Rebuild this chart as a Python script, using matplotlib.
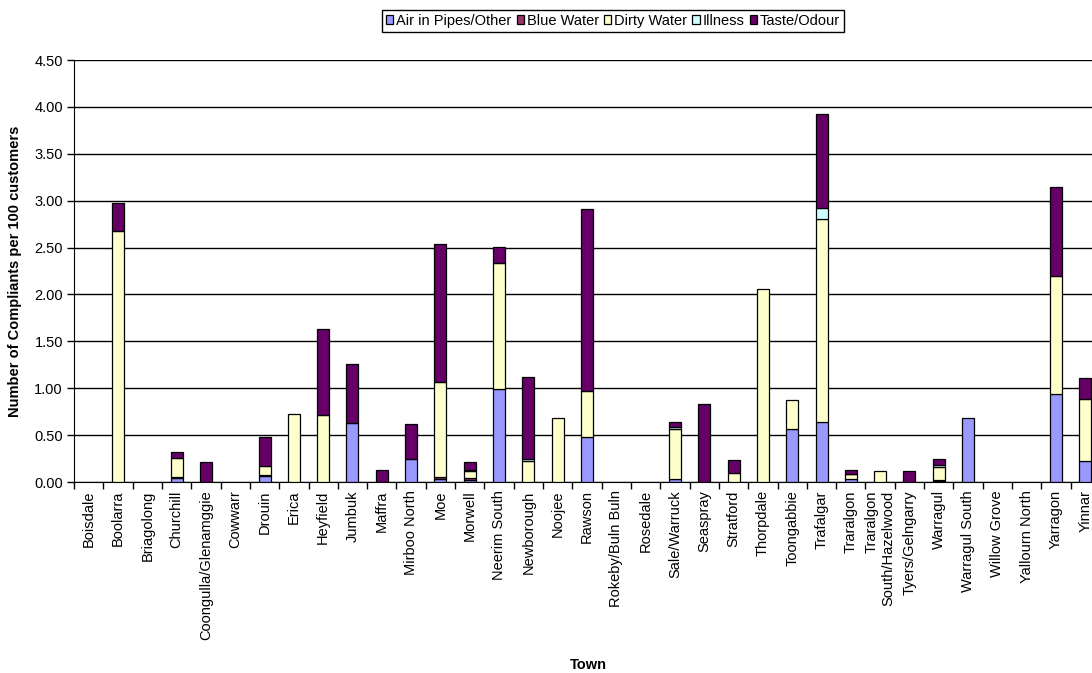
import matplotlib
matplotlib.use("Agg")
import matplotlib.pyplot as plt
import numpy as np

plt.rcParams['font.family'] = ['Liberation Sans', 'DejaVu Sans']

towns = ["Boisdale", "Boolarra", "Briagolong", "Churchill", "Coongulla/Glenamggie",
         "Cowwarr", "Drouin", "Erica", "Heyfield", "Jumbuk", "Maffra", "Mirboo North",
         "Moe", "Morwell", "Neerim South", "Newborough", "Noojee", "Rawson",
         "Rokeby/Buln Buln", "Rosedale", "Sale/Warruck", "Seaspray", "Stratford",
         "Thorpdale", "Toongabbie", "Trafalgar", "Traralgon", "Traralgon\nSouth/Hazelwood",
         "Tyers/Gelngarry", "Warragul", "Warragul South", "Willow Grove",
         "Yallourn North", "Yarragon", "Yinnar"]

air_in_pipes = [0, 0, 0, 0.04, 0, 0, 0.06, 0, 0, 0.625, 0, 0.24, 0.03, 0.02, 0.995,
                0, 0, 0.48, 0, 0, 0.03, 0, 0, 0, 0.57, 0.64, 0.03, 0, 0, 0.01,
                0.685, 0, 0, 0.94, 0.22]
blue_water = [0, 0, 0, 0.01, 0, 0, 0.01, 0, 0, 0, 0, 0, 0.02, 0.02, 0,
              0, 0, 0, 0, 0, 0, 0, 0, 0, 0, 0, 0, 0, 0, 0.01,
              0, 0, 0, 0, 0]
dirty_water = [0, 2.68, 0, 0.21, 0, 0, 0.10, 0.72, 0.71, 0, 0, 0, 1.02, 0.08, 1.345,
               0.22, 0.685, 0.49, 0, 0, 0.535, 0, 0.10, 2.06, 0.30, 2.16, 0.05, 0.12, 0, 0.14,
               0, 0, 0, 1.26, 0.66]
illness = [0, 0, 0, 0, 0, 0, 0, 0, 0, 0, 0, 0, 0, 0.01, 0,
           0.02, 0, 0, 0, 0, 0.02, 0, 0, 0, 0, 0.12, 0.01, 0, 0, 0.02,
           0, 0, 0, 0, 0]
taste_odour = [0, 0.30, 0, 0.06, 0.21, 0, 0.31, 0, 0.92, 0.635, 0.125, 0.375, 1.47, 0.08, 0.17,
               0.88, 0, 1.94, 0, 0, 0.06, 0.83, 0.13, 0, 0, 1.00, 0.04, 0, 0.12, 0.06,
               0, 0, 0, 0.945, 0.23]

series_names = ["Air in Pipes/Other", "Blue Water", "Dirty Water", "Illness", "Taste/Odour"]
series_vals = [air_in_pipes, blue_water, dirty_water, illness, taste_odour]
colors = ["#9999FF", "#993366", "#FFFFCC", "#CCFFFF", "#660066"]

y_ticks = [0.0, 0.5, 1.0, 1.5, 2.0, 2.5, 3.0, 3.5, 4.0, 4.5]

W, H = 1092, 673
fig = plt.figure(figsize=(W / 100, H / 100), dpi=100)
left, right, bottom, top = 74, 1100, 482, 60
ax = fig.add_axes([left / W, 1 - bottom / H, (right - left) / W, (bottom - top) / H])

x = np.arange(len(towns))
base = np.zeros(len(towns))
handles = []
for name, vals, c in zip(series_names, series_vals, colors):
    v = np.array(vals, dtype=float)
    m = v > 0
    b = ax.bar(x[m], v[m], width=0.41, bottom=base[m], color=c, edgecolor="black",
               linewidth=0.9, label=name, zorder=3)
    handles.append(b)
    base += v

ax.set_xlim(-0.5, len(towns) - 0.5)
ax.set_ylim(0, 4.5)
ax.set_yticks(y_ticks)
ax.set_yticklabels([f"{t:.2f}" for t in y_ticks], fontsize=10.5)
ax.yaxis.grid(True, color="black", linewidth=1.0, zorder=0)
ax.set_axisbelow(True)

ax.set_xticks(x)
ax.set_xticklabels(towns, rotation=90, fontsize=10.5, multialignment="right")
ax.tick_params(axis="x", which="major", length=0, pad=6)
ax.set_xticks(np.arange(-0.5, len(towns), 1.0), minor=True)
ax.tick_params(axis="x", which="minor", length=5, width=1, color="black", direction="out")
ax.tick_params(axis="y", length=5, width=1, direction="out", pad=3)

for s in ["top", "right"]:
    ax.spines[s].set_visible(False)
ax.spines["left"].set_color("black")
ax.spines["bottom"].set_color("black")

ax.set_xlabel("Town", fontsize=10.5, fontweight="bold")
ax.set_ylabel("Number of Compliants per 100 customers", fontsize=10.5, fontweight="bold")
ax.xaxis.set_label_coords((588 - left) / (right - left), -(658 - bottom) / (bottom - top))
ax.yaxis.set_label_coords(-(left - 22) / (right - left), 0.5)

leg = fig.legend(handles=handles, labels=series_names, loc="center",
                 bbox_to_anchor=(613 / W, 1 - 21 / H), ncol=5, fontsize=10.5,
                 frameon=True, fancybox=False, edgecolor="black", framealpha=1,
                 handlelength=0.5, handleheight=0.6, handletextpad=0.2,
                 columnspacing=0.35, borderpad=0.25, borderaxespad=0)
leg.get_frame().set_linewidth(1.0)

fig.savefig("out.png", dpi=100)
